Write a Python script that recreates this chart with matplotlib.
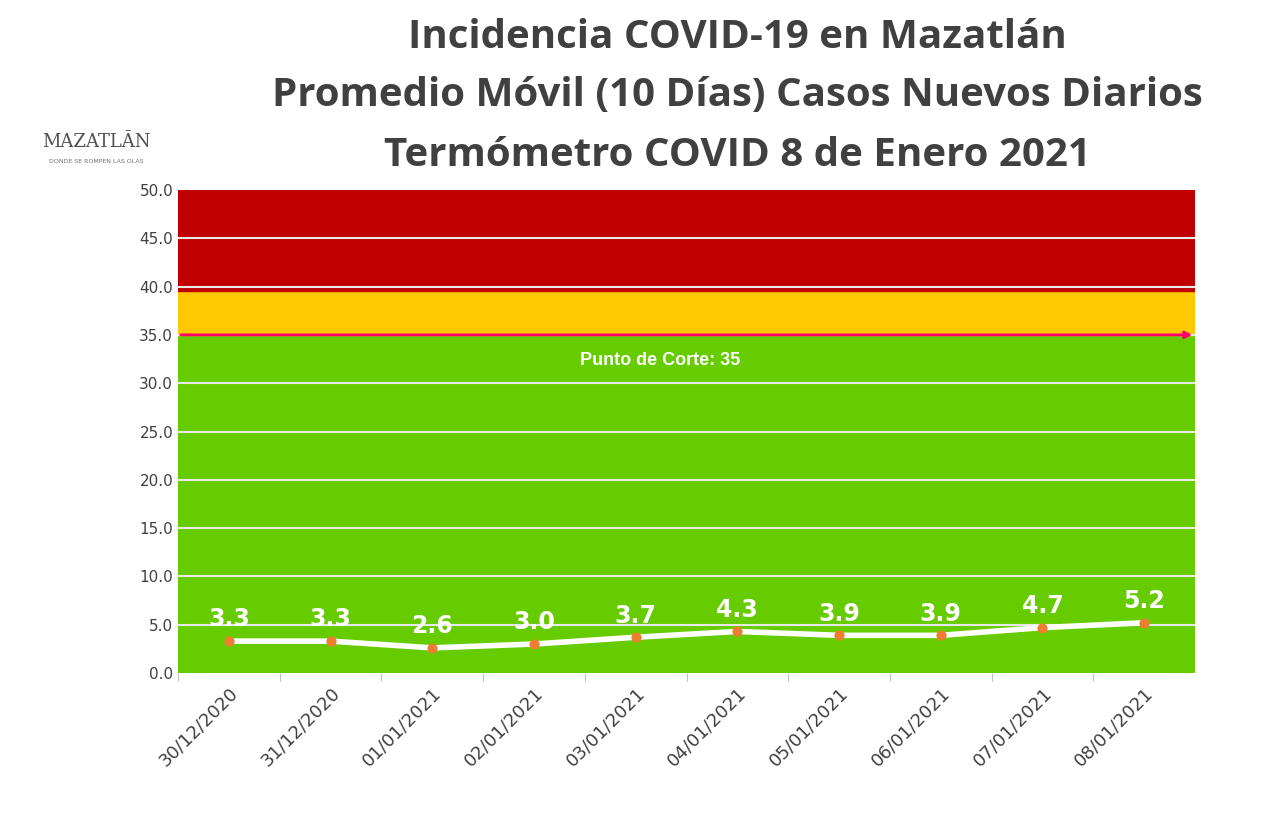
import matplotlib.pyplot as plt
import numpy as np

fechas = ['30/12/2020', '31/12/2020', '01/01/2021', '02/01/2021', '03/01/2021',
          '04/01/2021', '05/01/2021', '06/01/2021', '07/01/2021', '08/01/2021']
promedio = [3.3, 3.3, 2.6, 3.0, 3.7, 4.3, 3.9, 3.9, 4.7, 5.2]
corte = 35

fig = plt.figure(figsize=(12.8, 8.26), dpi=100)
fig.patch.set_facecolor('white')
ax = fig.add_axes([178/1280, 1-673/826, (1195-178)/1280, (673-190)/826])

x = np.arange(len(fechas))
ax.axhspan(0, 35, color='#66CC00', zorder=0)
ax.axhspan(35, 39.5, color='#FFC800', zorder=0)
ax.axhspan(39.5, 50, color='#C00000', zorder=0)
for y in np.arange(5, 50, 5):
    ax.axhline(y, color='#E8E8E8', lw=1.5, zorder=1)

ax.annotate('', xy=(9.5, corte), xytext=(-0.5, corte),
            arrowprops=dict(arrowstyle='-|>', color='#FF0066', lw=2), zorder=3)
ax.text(4.24, 32.3, 'Punto de Corte: 35', color='white', fontsize=13,
        fontweight='bold', ha='center', va='center', family='Liberation Sans')

ax.plot(x, promedio, color='white', lw=4, zorder=4)
ax.scatter(x, promedio, color='#ED7D31', s=40, zorder=5)
for xi, v in zip(x, promedio):
    ax.text(xi, v + 1.0, f'{v:.1f}', color='white', fontsize=17,
            fontweight='bold', ha='center', va='bottom', zorder=6)

ax.set_xlim(-0.5, 9.5)
ax.set_ylim(0, 50)
ax.set_yticks(np.arange(0, 51, 5))
ax.set_yticklabels([f'{v:.1f}' for v in np.arange(0, 51, 5)], fontsize=11, color='#404040')
ax.set_xticks(x - 0.5, minor=False)
ax.set_xticklabels([])
ax.set_xticks(x, minor=True)
ax.set_xticklabels(fechas, minor=True, rotation=45, ha='right', rotation_mode='anchor',
                   fontsize=13, color='#404040')
ax.tick_params(axis='x', which='minor', length=0, pad=8)
ax.tick_params(axis='x', which='major', length=6, color='#BFBFBF')
ax.tick_params(axis='y', length=0)
for s in ax.spines.values():
    s.set_visible(False)

for yy, t in [(0.955, 'Incidencia COVID-19 en Mazatlán'),
              (0.884, 'Promedio Móvil (10 Días) Casos Nuevos Diarios'),
              (0.812, 'Termómetro COVID 8 de Enero 2021')]:
    fig.text(0.576, yy, t, ha='center', va='center', fontsize=29,
             fontweight='bold', color='#404040', family='Open Sans')
fig.text(0.075, 0.828, 'MAZATLĀN', ha='center', va='center', fontsize=13,
         color='#505050', family='DejaVu Serif')
fig.text(0.075, 0.805, 'DONDE SE ROMPEN LAS OLAS', ha='center', va='center',
         fontsize=4.5, color='#707070')

fig.savefig('out.png', dpi=100)
